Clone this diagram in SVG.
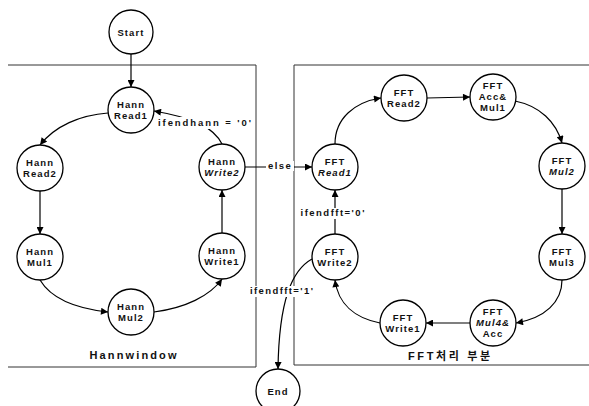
<svg xmlns="http://www.w3.org/2000/svg" width="589" height="406" viewBox="0 0 589 406">
<style>
.n circle{fill:#fff;stroke:#000;stroke-width:1.3}
.n text,.lbl{font-family:"Liberation Sans",Arial,sans-serif;font-weight:bold;font-size:9.5px;letter-spacing:1.1px;text-anchor:middle;fill:#111}
.it{font-style:italic}
.box{fill:none;stroke:#333;stroke-width:1}
.c path{fill:none;stroke:#000;stroke-width:1.2;marker-end:url(#ah)}
.bg{fill:#fff}
.title{font-family:"Liberation Sans","Noto Sans CJK KR",sans-serif;font-weight:bold;font-size:11px;text-anchor:middle;fill:#111}
</style>
<defs>
<marker id="ah" viewBox="0 0 10 10" refX="10" refY="5" markerWidth="9" markerHeight="7" markerUnits="userSpaceOnUse" orient="auto">
<path d="M0,0 L10,5 L0,10 Z" fill="#000"/>
</marker>
</defs>
<rect width="589" height="406" fill="#fff"/>
<g id="boxes">
<path class="box" d="M8,65 H256 V367 H8"/>
<path class="box" d="M589,65 H294 V365 H589"/>
<text class="title" x="133" y="359" textLength="87" lengthAdjust="spacing">Hannwindow</text>
<text class="title" x="449" y="360" textLength="82" lengthAdjust="spacing">FFT처리 부분</text>
</g>
<g id="connectors" class="c">
<path d="M131,54 L131,87"/>
<path d="M108,113 C80,115 55,126 40,145"/>
<path d="M40,191 L40,234"/>
<path d="M40,280 C52,300 80,309 108,312"/>
<path d="M154,312 C185,308 210,296 222,279"/>
<path d="M222,233 L222,190"/>
<path d="M222,144 C214,128 195,118 154,111"/>
<path d="M245,167 L312,167"/>
<path d="M335,144 C335,118 355,102 381,98"/>
<path d="M427,98 L470,97"/>
<path d="M515,101 C540,106 556,122 562,143"/>
<path d="M562,189 L562,234"/>
<path d="M562,280 C562,302 545,318 516,323"/>
<path d="M470,323 L426,323"/>
<path d="M380,323 C355,318 338,304 335,280"/>
<path d="M335,234 L335,190"/>
<path d="M312,259 C292,270 279,300 278,369"/>
</g>
<g id="labels">
<rect class="bg" x="157" y="117" width="96" height="12"/>
<text class="lbl" x="205" y="126" textLength="94" lengthAdjust="spacing">ifendhann = '0'</text>
<rect class="bg" x="266" y="161" width="28" height="10"/>
<text class="lbl" x="280" y="169" textLength="24" lengthAdjust="spacing">else</text>
<rect class="bg" x="299" y="208" width="68" height="11"/>
<text class="lbl" x="333" y="216" textLength="65" lengthAdjust="spacing">ifendfft='0'</text>
<rect class="bg" x="249" y="286" width="66" height="11"/>
<text class="lbl" x="282" y="294" textLength="64" lengthAdjust="spacing">ifendfft='1'</text>
</g>
<g id="start" class="n"><circle cx="131" cy="32" r="22"/><text x="131" y="35.5">Start</text></g>
<g id="end" class="n"><circle cx="278" cy="391" r="22"/><text x="278" y="394.5">End</text></g>
<g id="hann-read1" class="n"><circle cx="131" cy="110" r="23"/><text x="131" y="108">Hann</text><text x="131" y="119">Read1</text></g>
<g id="hann-read2" class="n"><circle cx="40" cy="168" r="23"/><text x="40" y="166">Hann</text><text x="40" y="177">Read2</text></g>
<g id="hann-mul1" class="n"><circle cx="40" cy="257" r="23"/><text x="40" y="255">Hann</text><text x="40" y="266">Mul1</text></g>
<g id="hann-mul2" class="n"><circle cx="131" cy="312" r="23"/><text x="131" y="310">Hann</text><text x="131" y="321">Mul2</text></g>
<g id="hann-write1" class="n"><circle cx="222" cy="256" r="23"/><text x="222" y="254">Hann</text><text x="222" y="265">Write1</text></g>
<g id="hann-write2" class="n"><circle cx="222" cy="167" r="23"/><text x="222" y="165">Hann</text><text x="222" y="176" class="it">Write2</text></g>
<g id="fft-read1" class="n"><circle cx="335" cy="167" r="23"/><text x="335" y="165">FFT</text><text x="335" y="176" class="it">Read1</text></g>
<g id="fft-read2" class="n"><circle cx="404" cy="98" r="23"/><text x="404" y="96">FFT</text><text x="404" y="107">Read2</text></g>
<g id="fft-accmul1" class="n"><circle cx="493" cy="97" r="23"/><text x="493" y="89">FFT</text><text x="493" y="99.5">Acc&amp;</text><text x="493" y="110.5">Mul1</text></g>
<g id="fft-mul2" class="n"><circle cx="562" cy="166" r="23"/><text x="562" y="164">FFT</text><text x="562" y="175" class="it">Mul2</text></g>
<g id="fft-mul3" class="n"><circle cx="562" cy="257" r="23"/><text x="562" y="255">FFT</text><text x="562" y="266">Mul3</text></g>
<g id="fft-mul4acc" class="n"><circle cx="493" cy="323" r="23"/><text x="493" y="315">FFT</text><text x="493" y="326" class="it">Mul4&amp;</text><text x="493" y="337">Acc</text></g>
<g id="fft-write1" class="n"><circle cx="403" cy="323" r="23"/><text x="403" y="321">FFT</text><text x="403" y="332">Write1</text></g>
<g id="fft-write2" class="n"><circle cx="335" cy="257" r="23"/><text x="335" y="255">FFT</text><text x="335" y="266">Write2</text></g>
</svg>
